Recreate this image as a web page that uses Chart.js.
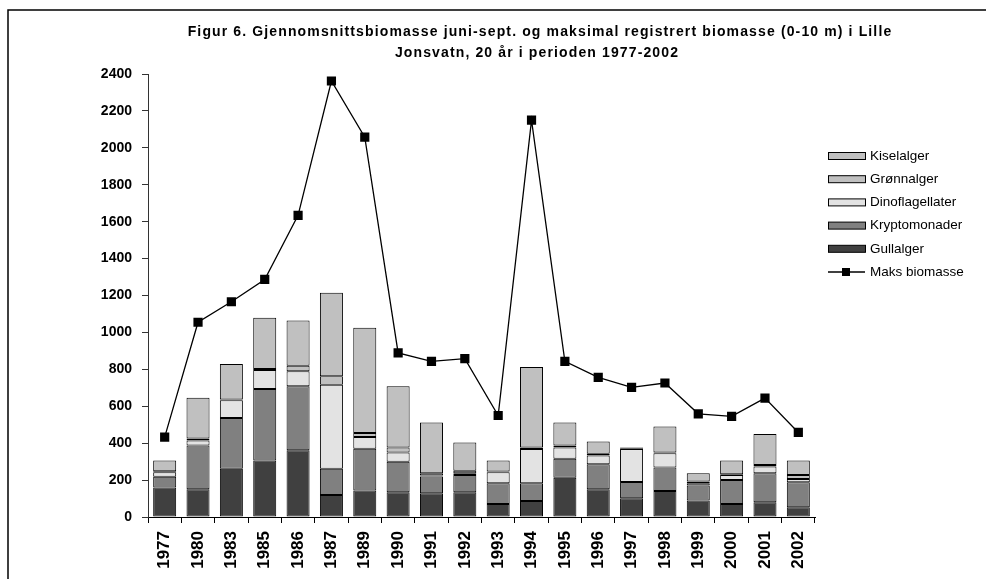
<!DOCTYPE html>
<html>
<head>
<meta charset="utf-8">
<script src="https://cdn.jsdelivr.net/npm/chart.js@4.4.1/dist/chart.umd.min.js"></script>
<style>
  body { margin: 0; background: #fff; }
  #wrap { width: 986px; height: 579px; }
</style>
</head>
<body>
<div id="wrap"><canvas id="biomasseChart" width="986" height="579"></canvas></div>
<script>
const years = ["1977", "1980", "1983", "1985", "1986", "1987", "1989", "1990", "1991", "1992",
  "1993", "1994", "1995", "1996", "1997", "1998", "1999", "2000", "2001", "2002"];

// snittbiomasse juni-sept per gruppe
const gullalger = [160, 150, 261, 306, 362, 119, 143, 134, 129, 134, 71, 87, 213, 150, 101, 141, 89, 71, 80, 53];
const kryptomonader = [58, 237, 275, 388, 346, 142, 227, 166, 90, 94, 112, 96, 102, 136, 89, 127, 81, 130, 157, 135];
const dinoflagellater = [25, 27, 96, 103, 81, 456, 63, 49, 6, 9, 60, 185, 61, 47, 178, 78, 13, 27, 36, 18];
const gronnalger = [5, 11, 5, 5, 31, 45, 22, 27, 12, 14, 3, 8, 11, 9, 5, 3, 9, 3, 9, 22];
const kiselalger = [58, 221, 192, 277, 244, 453, 570, 332, 275, 152, 60, 437, 125, 67, 3, 141, 45, 75, 167, 78];

// maksimal registrert biomasse
const maksBiomasse = [433, 1055, 1166, 1287, 1634, 2362, 2058, 889, 843, 858, 550, 2150, 843, 756, 702, 726, 559, 545, 644, 458];

const titleLines = [
  "Figur 6. Gjennomsnittsbiomasse juni-sept. og maksimal registrert biomasse (0-10 m) i Lille",
  "Jonsvatn, 20 år i perioden 1977-2002",
];

const colors = {
  gull: "#404040",
  krypto: "#808080",
  dino: "#e3e3e3",
  gronn: "#c0c0c0",
  kisel: "#c0c0c0",
};

// frame + title, drawn like the old excel figure
const framePlugin = {
  id: "frame",
  afterDraw(chart) {
    const ctx = chart.ctx;
    ctx.save();
    ctx.strokeStyle = "#000";
    ctx.lineWidth = 1.5;
    ctx.strokeRect(8, 10, 1200, 1000);

    ctx.fillStyle = "#000";
    ctx.font = "bold 14px 'Liberation Sans', Arial, sans-serif";
    ctx.textAlign = "center";
    ctx.textBaseline = "alphabetic";
    const w = ctx.measureText(titleLines[0]).width;
    const spacing = Math.max(0, (705 - w) / titleLines[0].length);
    ctx.letterSpacing = spacing.toFixed(2) + "px";
    ctx.fillText(titleLines[0], 540, 36);
    ctx.fillText(titleLines[1], 537, 57);
    ctx.restore();
  },
};

// legend at the right side
const legendPlugin = {
  id: "sideLegend",
  afterDraw(chart) {
    const ctx = chart.ctx;
    const items = [
      { label: "Kiselalger", color: colors.kisel },
      { label: "Grønnalger", color: colors.gronn },
      { label: "Dinoflagellater", color: colors.dino },
      { label: "Kryptomonader", color: colors.krypto },
      { label: "Gullalger", color: colors.gull },
      { label: "Maks biomasse", line: true },
    ];
    const x0 = 828;
    let y = 156;
    ctx.save();
    ctx.font = "13.5px 'Liberation Sans', Arial, sans-serif";
    ctx.textBaseline = "middle";
    ctx.fillStyle = "#000";
    items.forEach((it) => {
      if (it.line) {
        ctx.strokeStyle = "#000";
        ctx.lineWidth = 1.3;
        ctx.beginPath();
        ctx.moveTo(x0, y);
        ctx.lineTo(x0 + 37, y);
        ctx.stroke();
        ctx.fillStyle = "#000";
        ctx.fillRect(x0 + 14, y - 4, 8, 8);
      } else {
        ctx.fillStyle = it.color;
        ctx.fillRect(x0, y - 3.5, 37, 7);
        ctx.strokeStyle = "#000";
        ctx.lineWidth = 1;
        ctx.strokeRect(x0 + 0.5, y - 3.5, 37, 7);
      }
      ctx.fillStyle = "#000";
      ctx.fillText(it.label, x0 + 42, y);
      y += 23.2;
    });
    ctx.restore();
  },
};

const barSet = (label, data, color) => ({
  type: "bar",
  label: label,
  data: data,
  backgroundColor: color,
  borderColor: "#000",
  borderWidth: 1,
  borderSkipped: false,
  barPercentage: 0.69,
  categoryPercentage: 1.0,
  stack: "snitt",
  order: 1,
});

const ctx = document.getElementById("biomasseChart");
new Chart(ctx, {
  data: {
    labels: years,
    datasets: [
      {
        type: "line",
        label: "Maks biomasse",
        data: maksBiomasse,
        borderColor: "#000",
        borderWidth: 1.3,
        backgroundColor: "#000",
        pointStyle: "rect",
        pointRadius: 6.5,
        pointBackgroundColor: "#000",
        pointBorderWidth: 0,
        tension: 0,
        stack: "maks",
        order: 0,
      },
      barSet("Gullalger", gullalger, colors.gull),
      barSet("Kryptomonader", kryptomonader, colors.krypto),
      barSet("Dinoflagellater", dinoflagellater, colors.dino),
      barSet("Grønnalger", gronnalger, colors.gronn),
      barSet("Kiselalger", kiselalger, colors.kisel),
    ],
  },
  options: {
    responsive: false,
    animation: false,
    layout: {
      padding: { top: 74, right: 171, bottom: 0, left: 0 },
    },
    plugins: {
      legend: { display: false },
      title: { display: false },
      tooltip: { enabled: false },
    },
    scales: {
      x: {
        stacked: true,
        offset: true,
        grid: {
          offset: true,
          drawOnChartArea: false,
          drawTicks: true,
          tickLength: 6,
          color: "#000",
        },
        border: { color: "#000", width: 1 },
        ticks: {
          color: "#000",
          font: { family: "'Liberation Sans', Arial, sans-serif", size: 17, weight: "bold" },
          minRotation: 90,
          maxRotation: 90,
          padding: 8,
          autoSkip: false,
        },
        afterFit: (scale) => {
          scale.height = 62;
        },
      },
      y: {
        stacked: true,
        min: 0,
        max: 2400,
        grid: {
          drawOnChartArea: false,
          drawTicks: true,
          tickLength: 6,
          color: "#333",
        },
        border: { color: "#333", width: 1 },
        ticks: {
          stepSize: 200,
          color: "#000",
          font: { family: "'Liberation Sans', Arial, sans-serif", size: 14, weight: "bold" },
          padding: 10,
          callback: (value) => String(value),
        },
        afterFit: (scale) => {
          scale.width = 148;
        },
      },
    },
  },
  plugins: [framePlugin, legendPlugin],
});
</script>
</body>
</html>
